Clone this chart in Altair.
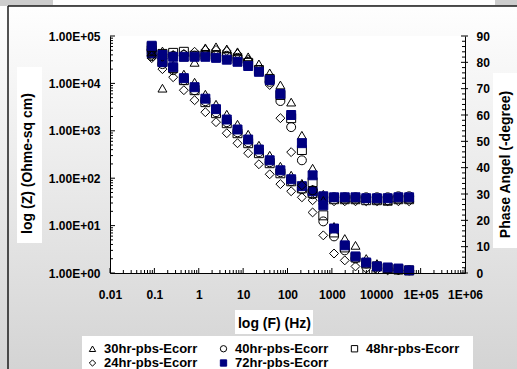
import altair as alt
import pandas as pd

# ---------------- data ----------------
FREQ_HZ = [0.0871, 0.152, 0.265, 0.462, 0.806, 1.41, 2.45, 4.28, 7.47, 13.0,
           22.7, 39.7, 69.2, 121, 211, 368, 641, 1119, 1953, 3405,
           5943, 10370, 18090, 31560, 55070]

SERIES = ["30hr-pbs-Ecorr", "40hr-pbs-Ecorr", "48hr-pbs-Ecorr",
          "24hr-pbs-Ecorr", "72hr-pbs-Ecorr"]

# |Z| (Ohm sq cm)
Z_30 = [41400, 7930, 24300, 15700, 10600, 5920, 3640, 2240, 1377, 847, 497, 305,
        179, 116, 78, 58.5, 45.9, 39.6, 37.8, 37.8, 37.8, 36.0, 32.6, 37.8, 37.8]
Z_40 = [37600, 25500, 19000, 11700, 7190, 4220, 2470, 1520, 933, 574, 353, 217,
        134, 86, 58.5, 45.9, 39.6, 39.6, 39.6, 39.6, 39.6, 39.6, 39.6, 41.6, 41.6]
Z_48 = [50200, 28100, 21000, 11700, 7190, 4020, 2350, 1446, 889, 547, 337, 207,
        127, 86, 61, 48.2, 39.6, 36.0, 36.0, 36.0, 34.3, 34.3, 34.3, 36.0, 36.0]
Z_24 = [34100, 20000, 13500, 7190, 4420, 2470, 1520, 889, 547, 337, 197, 121,
        75, 53, 39.6, 34.3, 32.6, 32.6, 32.6, 32.6, 32.6, 32.6, 32.6, 32.6, 32.6]
Z_72 = [43500, 28100, 22000, 12900, 8320, 4760, 2860, 1730, 1065, 655, 403, 239,
        147, 95, 68, 53, 41.6, 39.6, 39.6, 39.6, 37.8, 37.8, 37.8, 39.6, 39.6]

# phase angle (-degree)
P_30 = [84.0, 84.3, 83.0, 82.0, 80.0, 85.5, 85.9, 85.1, 84.0, 82.1, 79.4, 76.0,
        71.4, 64.9, 52.3, 39.8, 27.6, 17.7, 13.1, 10.5, 5.5, 3.6, 1.7, 1.3, 1.0]
P_40 = [84.7, 82.8, 82.5, 82.8, 82.5, 82.8, 82.8, 82.5, 81.7, 80.2, 77.1, 72.6,
        65.3, 55.4, 42.8, 31.4, 19.6, 13.9, 8.6, 5.5, 3.6, 2.5, 1.7, 1.3, 1.0]
P_48 = [85.9, 83.2, 83.6, 84.0, 82.5, 82.8, 82.5, 82.1, 81.3, 79.8, 77.1, 73.7,
        67.6, 58.8, 46.7, 34.5, 21.9, 15.4, 9.7, 5.9, 3.6, 2.5, 1.7, 1.3, 1.0]
P_24 = [82.5, 82.1, 82.5, 83.2, 84.0, 84.7, 84.7, 84.3, 83.2, 81.0, 77.1, 71.4,
        58.8, 45.9, 33.3, 23.0, 14.3, 7.4, 4.8, 2.5, 1.7, 1.3, 1.0, 1.0, 1.0]
P_72 = [86.3, 82.8, 82.1, 82.1, 82.1, 82.1, 81.7, 81.0, 80.2, 78.6, 76.4, 73.3,
        68.0, 60.0, 49.3, 37.1, 25.7, 16.9, 10.5, 6.3, 4.0, 2.5, 2.1, 1.7, 1.0]

X_TICK_VALUES = [0.01, 0.1, 1, 10, 100, 1000, 10000, 100000, 1000000]
X_TICK_LABELS = ["0.01", "0.1", "1", "10", "100", "1000", "10000", "1E+05", "1E+06"]
Z_TICK_VALUES = [1, 10, 100, 1000, 10000, 100000]
Z_TICK_LABELS = ["1.00E+00", "1.00E+01", "1.00E+02", "1.00E+03", "1.00E+04", "1.00E+05"]
P_TICK_VALUES = [0, 10, 20, 30, 40, 50, 60, 70, 80, 90]

X_MINOR = [m * 10.0 ** e for e in range(-2, 6) for m in range(2, 10)]
Z_MINOR = [m * 10.0 ** e for e in range(0, 5) for m in range(2, 10)]
P_MINOR = [v for v in range(0, 91, 2) if v % 10]

# ---------------- styling ----------------
NAVY = "#000080"
FONT = "Liberation Sans"
W, H = 355, 237


def label_expr(values, labels):
    parts = [f"abs(datum.value - {v}) <= {v * 0.001 + 1e-9} ? '{lab}'"
             for v, lab in zip(values, labels)]
    return " : ".join(parts) + " : ''"


z_rows, p_rows = [], []
for s, zs_, ps_ in zip(SERIES, [Z_30, Z_40, Z_48, Z_24, Z_72],
                       [P_30, P_40, P_48, P_24, P_72]):
    for f, zv, pv in zip(FREQ_HZ, zs_, ps_):
        z_rows.append({"series": s, "f": f, "z": zv})
        p_rows.append({"series": s, "f": f, "p": pv})
z_df = pd.DataFrame(z_rows)
p_df = pd.DataFrame(p_rows)

x_scale = alt.Scale(type="log", domain=[0.01, 1e6], nice=False)
z_scale = alt.Scale(type="log", domain=[1, 1e5], nice=False)
p_scale = alt.Scale(type="linear", domain=[0, 90], nice=False, zero=True)

common_axis = dict(ticks=False, grid=False, domainColor="#000000", domainWidth=1,
                   labelFont=FONT, labelFontSize=12, labelFontWeight="bold",
                   labelColor="#000000", titleFont=FONT, titleFontSize=14,
                   titleFontWeight="bold", titleColor="#000000", zindex=1,
                   labelOverlap=False)

x_axis = alt.Axis(values=X_TICK_VALUES, labelExpr=label_expr(X_TICK_VALUES, X_TICK_LABELS),
                  title="log (F) (Hz)", labelFlush=False, labelPadding=16,
                  titleX=164, titleY=50, titleBaseline="middle", titleAlign="center",
                  **common_axis)
z_axis = alt.Axis(orient="left", values=Z_TICK_VALUES,
                  labelExpr=label_expr(Z_TICK_VALUES, Z_TICK_LABELS),
                  title="log (Z) (Ohme-sq cm)", labelPadding=10,
                  titleX=-83, titleY=127, titleAngle=270, titleBaseline="middle",
                  titleAlign="center", **common_axis)
p_axis = alt.Axis(orient="right", values=P_TICK_VALUES, format="d",
                  title="Phase Angel (-degree)", labelPadding=11,
                  titleX=40, titleY=128, titleAngle=270, titleBaseline="middle",
                  titleAlign="center", **common_axis)

x_enc = alt.X("f:Q", scale=x_scale, axis=x_axis)

legend = alt.Legend(title=None, orient="none", legendX=-24, legendY=306,
                    direction="horizontal", columns=3, columnPadding=19,
                    rowPadding=0.5, padding=0,
                    labelFont=FONT, labelFontSize=13, labelFontWeight="bold",
                    labelColor="#000000", labelOffset=5, symbolSize=40,
                    symbolStrokeWidth=1)
shape_enc = alt.Shape("series:N", legend=legend,
                      scale=alt.Scale(domain=SERIES,
                                      range=["triangle-up", "circle", "square", "diamond", "square"]))
fill_enc = alt.Fill("series:N", legend=legend,
                    scale=alt.Scale(domain=SERIES,
                                    range=["transparent", "transparent", "transparent", "transparent", NAVY]))
stroke_enc = alt.Stroke("series:N", legend=legend,
                        scale=alt.Scale(domain=SERIES,
                                        range=["#000000", "#000000", "#000000", "#000000", NAVY]))

one = pd.DataFrame({"k": [0]})


def box(x, x2, y, y2, **kw):
    return alt.Chart(one).mark_rect(**kw).encode(
        x=alt.value(x), x2=alt.value(x2), y=alt.value(y), y2=alt.value(y2))


gradient = alt.LinearGradient(gradient="linear", x1=0, y1=0, x2=0, y2=1,
                              stops=[alt.GradientStop(color="#ffffff", offset=0),
                                     alt.GradientStop(color="#d4d4d4", offset=1)])

bg = box(-110, 407, -36, 333, fill=gradient)
strip = box(-110, 407, -36, -30, fill="#cdcdcd")
top_box = box(-57, 385, -36, -31, fill="#ffffff")
border_top = alt.Chart(one).mark_rule(color="#1a1a1a", strokeWidth=1.5).encode(
    x=alt.value(-102), x2=alt.value(407), y=alt.value(-30))
border_left = alt.Chart(one).mark_rule(color="#1a1a1a", strokeWidth=1.5).encode(
    x=alt.value(-102), y=alt.value(-30), y2=alt.value(333))
plot_bg = box(0, W, 0, H, fill="#ffffff")
xtitle_box = box(125, 203, 274, 298, fill="#ffffff")
ztitle_box = box(-93, -68, 31, 207, fill="#ffffff")
ptitle_box = box(383, 407, 37, 212, fill="#ffffff")
legend_box = box(-28, 363, 300, 333, fill="#ffffff")

x_minor = alt.Chart(pd.DataFrame({"f": X_MINOR})).mark_rule(color="#000", strokeWidth=1).encode(
    x=x_enc, y=alt.value(H), y2=alt.value(H - 3))
x_major = alt.Chart(pd.DataFrame({"f": X_TICK_VALUES})).mark_rule(color="#000", strokeWidth=1).encode(
    x=x_enc, y=alt.value(H), y2=alt.value(H - 5))
z_minor = alt.Chart(pd.DataFrame({"v": Z_MINOR})).mark_rule(color="#000", strokeWidth=1).encode(
    y=alt.Y("v:Q", scale=z_scale, axis=None), x=alt.value(0), x2=alt.value(3))
z_major = alt.Chart(pd.DataFrame({"v": Z_TICK_VALUES})).mark_rule(color="#000", strokeWidth=1).encode(
    y=alt.Y("v:Q", scale=z_scale, axis=None), x=alt.value(0), x2=alt.value(5))
p_minor = alt.Chart(pd.DataFrame({"v": P_MINOR})).mark_rule(color="#000", strokeWidth=1).encode(
    y=alt.Y("v:Q", scale=p_scale, axis=None), x=alt.value(W), x2=alt.value(W - 3))
p_major = alt.Chart(pd.DataFrame({"v": P_TICK_VALUES})).mark_rule(color="#000", strokeWidth=1).encode(
    y=alt.Y("v:Q", scale=p_scale, axis=None), x=alt.value(W - 4), x2=alt.value(W + 3))

z_points = alt.Chart(z_df).mark_point(size=80, strokeWidth=1, opacity=1).encode(
    x=x_enc, y=alt.Y("z:Q", scale=z_scale, axis=z_axis),
    shape=shape_enc, fill=fill_enc, stroke=stroke_enc)
p_points = alt.Chart(p_df).mark_point(size=80, strokeWidth=1, opacity=1).encode(
    x=x_enc, y=alt.Y("p:Q", scale=p_scale, axis=p_axis),
    shape=shape_enc, fill=fill_enc, stroke=stroke_enc)

chart = alt.layer(
    bg, strip, top_box, border_top, border_left, plot_bg,
    xtitle_box, ztitle_box, ptitle_box, legend_box,
    x_minor, x_major, z_minor, z_major, p_minor, p_major,
    z_points, p_points,
).resolve_scale(y="independent").properties(
    width=W, height=H,
    autosize=alt.AutoSizeParams(type="none"),
    padding={"left": 110, "top": 36, "right": 52, "bottom": 96},
).configure(background="#d0d0d0").configure_view(stroke="transparent")

chart.save("out.html", embed_options={"renderer": "svg", "actions": False})
